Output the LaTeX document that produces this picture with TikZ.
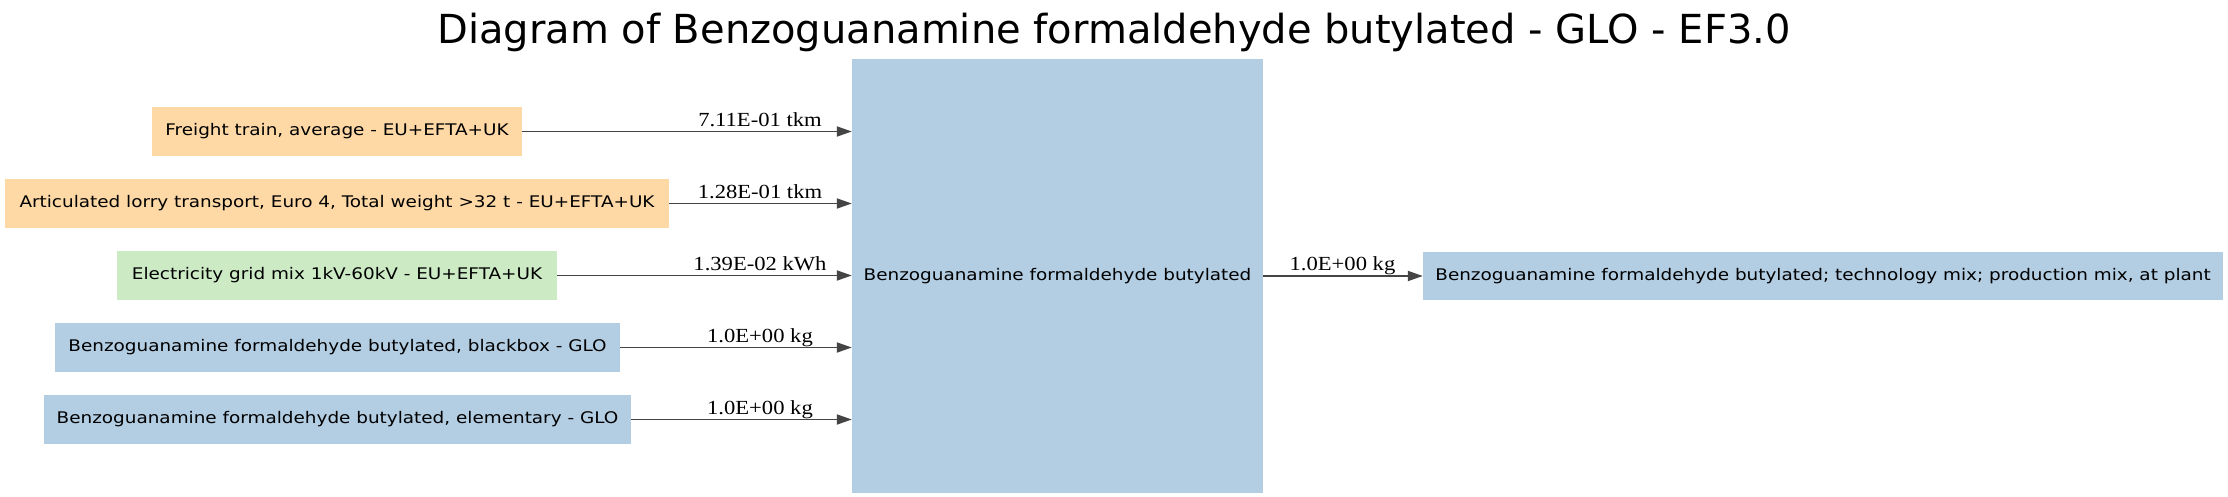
\documentclass[tikz,border=0pt]{standalone}
\usepackage{fontspec}
\setmainfont{DejaVu Sans}
\newfontfamily\lblfont{Liberation Serif}
\usetikzlibrary{arrows.meta}
\definecolor{cOrange}{HTML}{FED9A6}
\definecolor{cGreen}{HTML}{CCEBC5}
\definecolor{cBlue}{HTML}{B3CDE3}
\definecolor{cEdge}{HTML}{444444}
\newcommand{\wtxt}[1]{\scalebox{1.15}[1]{#1}}
\newcommand{\wlbl}[1]{\scalebox{1.13}[1]{#1}}
\begin{document}
\begin{tikzpicture}[x=1pt,y=-1pt,
  box/.style={draw=none, inner sep=0pt, minimum height=49pt, font=\fontsize{16}{19}\selectfont, text=black},
  edge/.style={draw=cEdge, line width=1.8pt, -{Triangle[length=15pt,width=10pt]}},
  lbl/.style={anchor=base, inner sep=0pt, font=\lblfont\fontsize{20}{22}\selectfont}]
\useasboundingbox[fill=white] (0,0) rectangle (2228,497);
\node[anchor=base, inner sep=0pt, font=\fontsize{40}{46}\selectfont] (title) at (1114,44) {Diagram of Benzoguanamine formaldehyde butylated - GLO - EF3.0};
\node[box, fill=cOrange, minimum width=370pt] (fr) at (337,131.5) {\wtxt{Freight train, average - EU+EFTA+UK}};
\node[box, fill=cOrange, minimum width=664pt] (ar) at (337,203.5) {\wtxt{Articulated lorry transport, Euro 4, Total weight >32 t - EU+EFTA+UK}};
\node[box, fill=cGreen, minimum width=440pt] (el) at (337,275.5) {\wtxt{Electricity grid mix 1kV-60kV - EU+EFTA+UK}};
\node[box, fill=cBlue, minimum width=565pt] (bb) at (337.5,347.5) {\wtxt{Benzoguanamine formaldehyde butylated, blackbox - GLO}};
\node[box, fill=cBlue, minimum width=587pt] (em) at (337.5,419.5) {\wtxt{Benzoguanamine formaldehyde butylated, elementary - GLO}};
\node[box, fill=cBlue, minimum width=411pt, minimum height=434pt] (main) at (1057.5,276) {\wtxt{Benzoguanamine formaldehyde butylated}};
\node[box, fill=cBlue, minimum width=800pt, minimum height=48pt] (out) at (1823,276) {\wtxt{Benzoguanamine formaldehyde butylated; technology mix; production mix, at plant}};
\draw[edge] (fr.east) -- (fr.east -| main.west);
\draw[edge] (ar.east) -- (ar.east -| main.west);
\draw[edge] (el.east) -- (el.east -| main.west);
\draw[edge] (bb.east) -- (bb.east -| main.west);
\draw[edge] (em.east) -- (em.east -| main.west);
\draw[edge] (main.east |- out.west) -- (out.west);
\node[lbl] (l1) at (760,126.5) {\wlbl{7.11E-01 tkm}};
\node[lbl] (l2) at (760,198.5) {\wlbl{1.28E-01 tkm}};
\node[lbl] (l3) at (760,270.5) {\wlbl{1.39E-02 kWh}};
\node[lbl] (l4) at (760,342.5) {\wlbl{1.0E+00 kg}};
\node[lbl] (l5) at (760,414.5) {\wlbl{1.0E+00 kg}};
\node[lbl] (l6) at (1342.5,271) {\wlbl{1.0E+00 kg}};
\end{tikzpicture}
\end{document}
